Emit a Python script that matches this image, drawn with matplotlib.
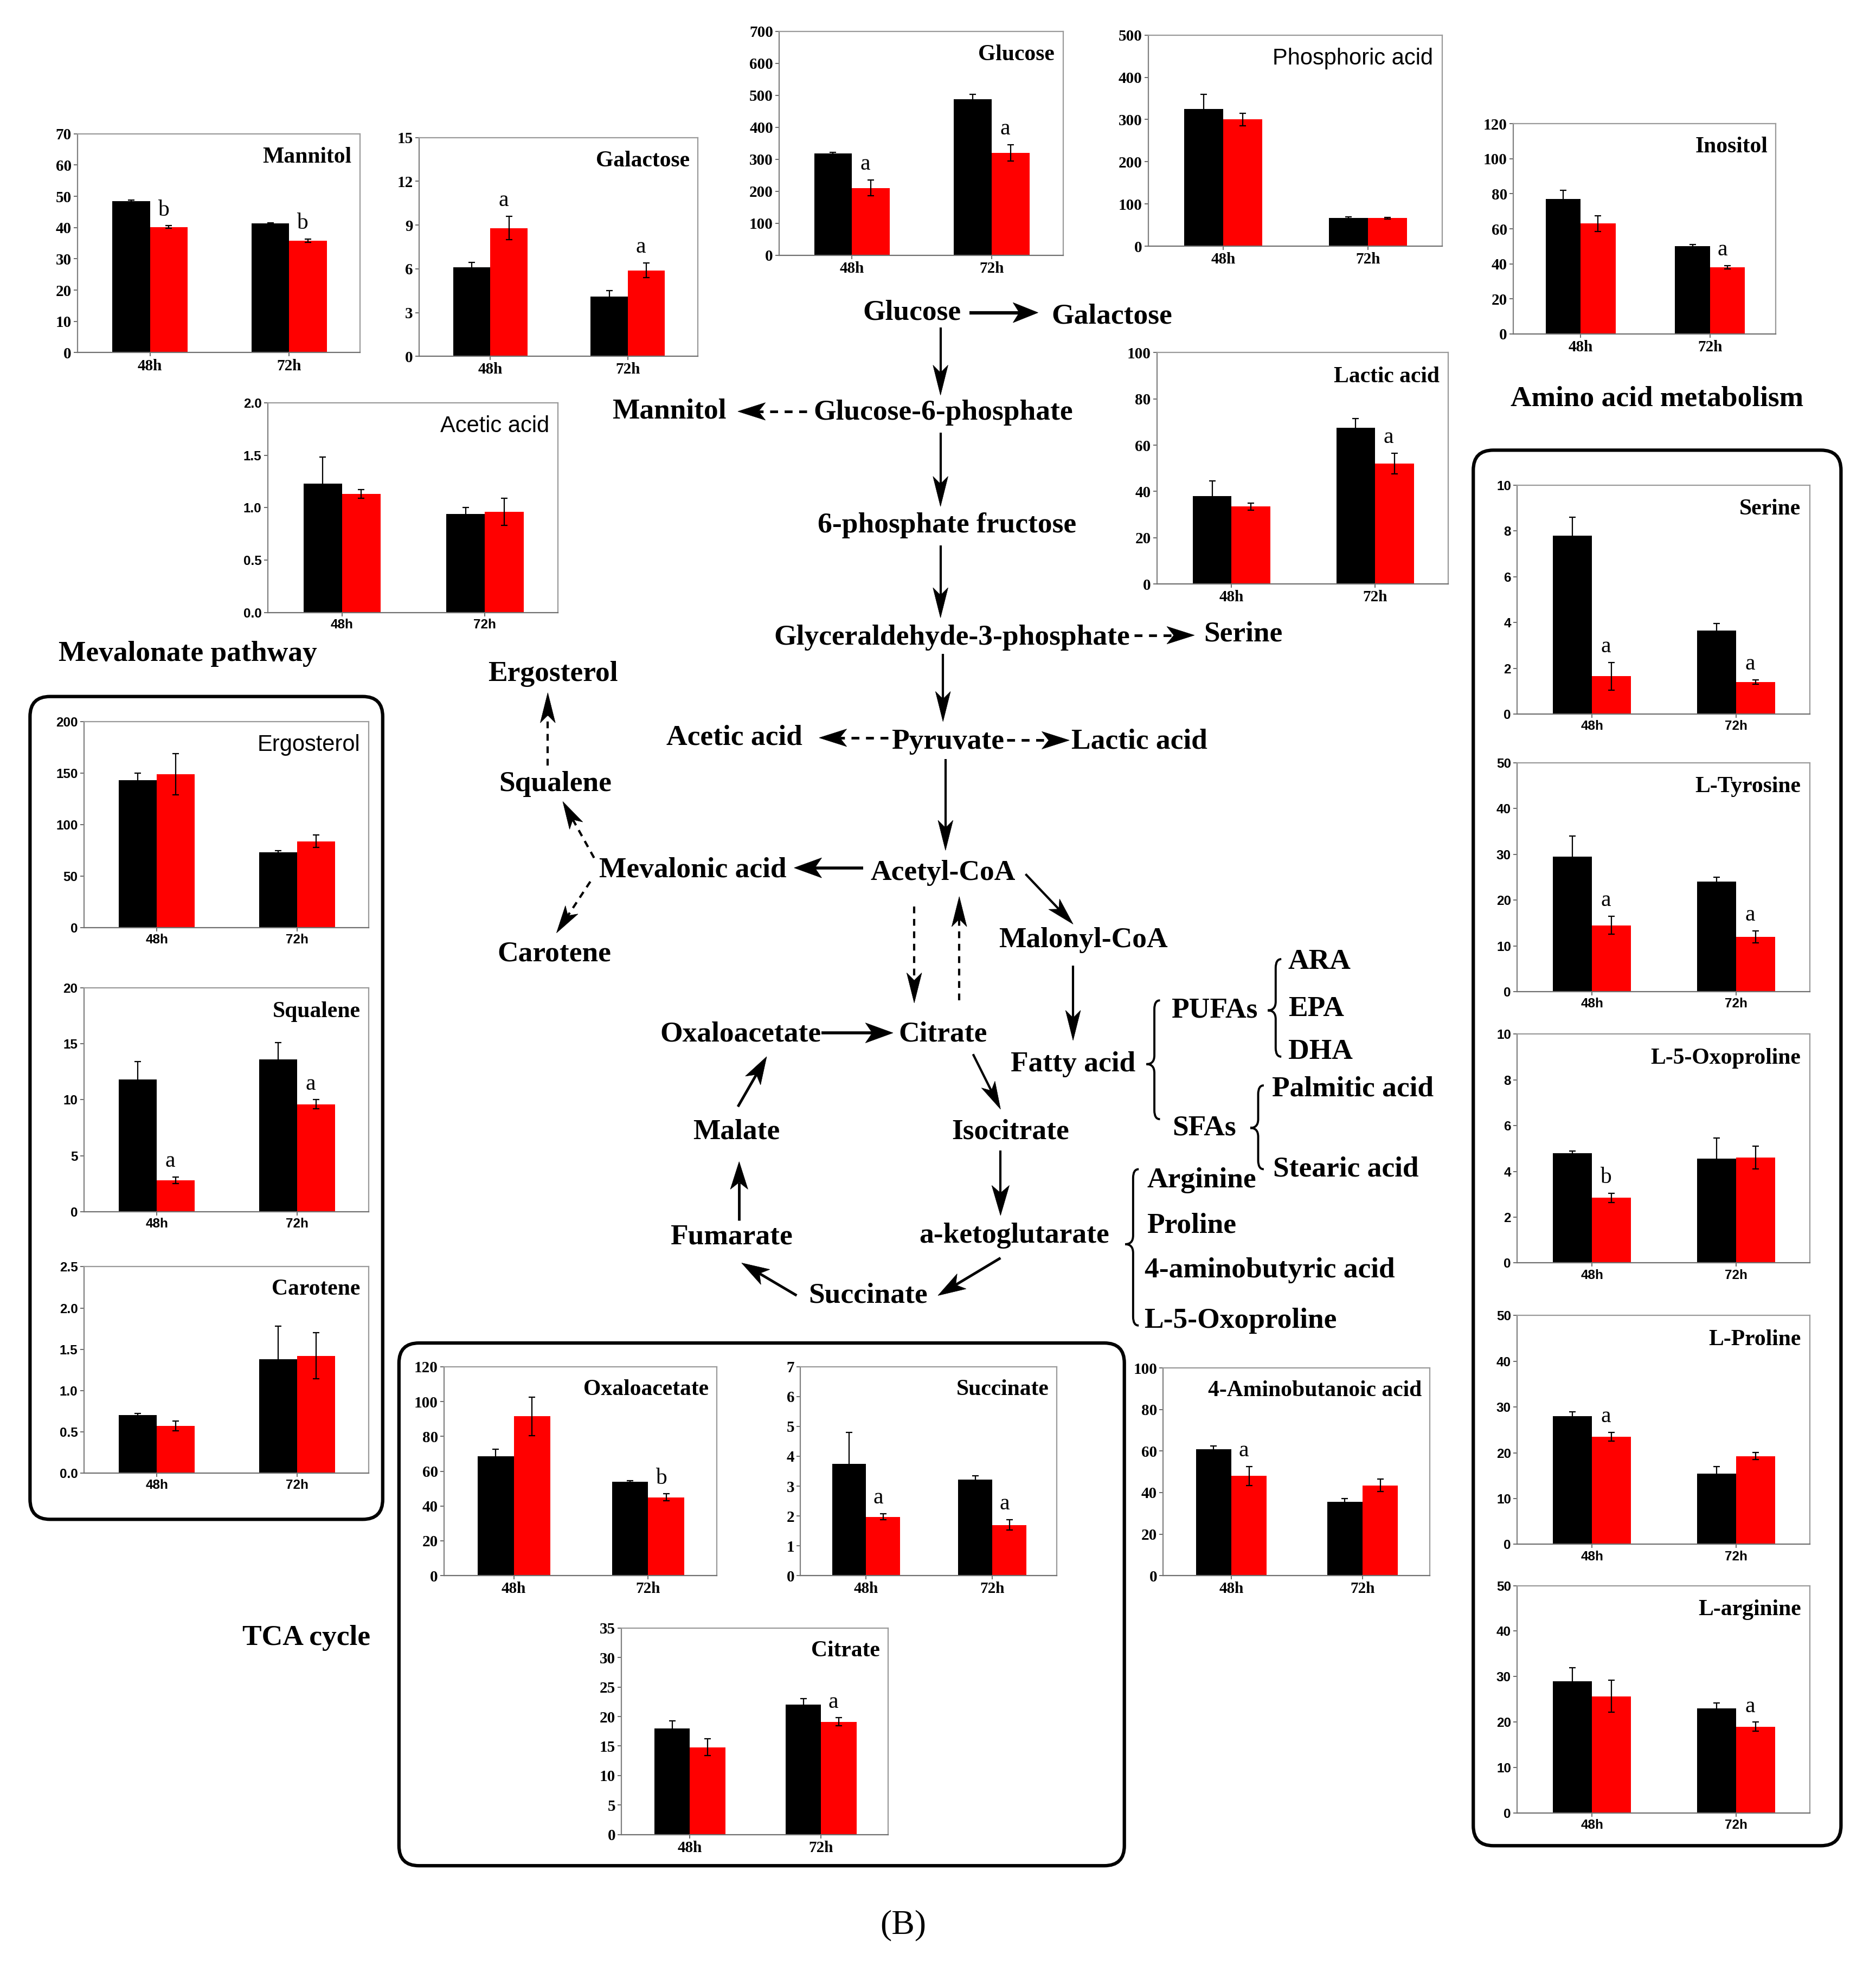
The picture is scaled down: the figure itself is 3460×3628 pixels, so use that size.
import matplotlib
matplotlib.use('Agg')
import matplotlib.pyplot as plt
from matplotlib.patches import FancyBboxPatch, Polygon, PathPatch
from matplotlib.path import Path
import numpy as np

# ---------------- data ----------------
timepoints = ['48h', '72h']
metabolites = ['Mannitol', 'Galactose', 'Glucose', 'Phosphoric acid', 'Inositol',
               'Acetic acid', 'Lactic acid', 'Ergosterol', 'Squalene', 'Carotene',
               'Serine', 'L-Tyrosine', 'L-5-Oxoproline', 'L-Proline', 'L-arginine',
               'Oxaloacetate', 'Succinate', 'Citrate', '4-Aminobutanoic acid']
control_means = [[48.5, 41.3], [6.1, 4.1], [318, 487], [325, 67], [77, 50],
                 [1.23, 0.94], [38, 67.5], [143, 73], [11.8, 13.6], [0.70, 1.38],
                 [7.8, 3.65], [29.5, 24], [4.8, 4.55], [28, 15.5], [29, 23],
                 [68.5, 54], [3.75, 3.22], [18, 22], [61, 35.5]]
control_err = [[0.3, 0.3], [0.35, 0.4], [4, 15], [35, 3], [5, 1],
               [0.25, 0.06], [6.5, 4], [7, 2], [1.6, 1.5], [0.02, 0.4],
               [0.8, 0.3], [4.5, 1], [0.1, 0.9], [1, 1.5], [3, 1.2],
               [4, 0.5], [1.05, 0.12], [1.3, 1], [1.5, 1.5]]
treated_means = [[40.2, 35.8], [8.8, 5.9], [210, 320], [300, 67], [63, 38],
                 [1.13, 0.96], [33.5, 52], [149, 84], [2.8, 9.6], [0.57, 1.42],
                 [1.65, 1.4], [14.5, 12], [2.85, 4.6], [23.5, 19.3], [25.7, 19],
                 [91.5, 45], [1.97, 1.7], [14.8, 19.1], [48, 43.5]]
treated_err = [[0.4, 0.5], [0.8, 0.5], [25, 25], [15, 2], [4.5, 1],
               [0.04, 0.13], [1.5, 4.5], [20, 6], [0.3, 0.4], [0.06, 0.28],
               [0.6, 0.1], [2, 1.3], [0.2, 0.5], [1, 0.8], [3.5, 1],
               [11, 2], [0.1, 0.17], [1.4, 0.7], [4.5, 3]]
sig_letters = [['b', 'b'], ['a', 'a'], ['a', 'a'], ['', ''], ['', 'a'],
               ['', ''], ['', 'a'], ['', ''], ['a', 'a'], ['', ''],
               ['a', 'a'], ['a', 'a'], ['b', ''], ['a', ''], ['', 'a'],
               ['', 'b'], ['a', 'a'], ['', 'a'], ['a', '']]
y_max = [70, 15, 700, 500, 120, 2.0, 100, 200, 20, 2.5,
         10, 50, 10, 50, 50, 120, 7, 35, 100]
y_step = [10, 3, 100, 100, 20, 0.5, 20, 50, 5, 0.5,
          2, 10, 2, 10, 10, 20, 1, 5, 20]

# ---------------- layout (reference pixel frame 1500 x 1573) ----------------
W, H = 1500.0, 1573.0
SERIF = 'Liberation Serif'
SANS = 'Liberation Sans'
# name: (x0, y0, x1, y1, title family, title weight, tick family, decimals)
layout = {
    'Mannitol': (62, 107, 288, 282, SERIF, 'bold', SERIF, 0),
    'Galactose': (335, 110, 558, 285, SERIF, 'bold', SERIF, 0),
    'Glucose': (623, 25, 850, 204, SERIF, 'bold', SERIF, 0),
    'Phosphoric acid': (918, 28, 1153, 197, SANS, 'normal', SERIF, 0),
    'Inositol': (1210, 99, 1420, 267, SERIF, 'bold', SERIF, 0),
    'Acetic acid': (214, 322, 446, 490, SANS, 'normal', SANS, 1),
    'Lactic acid': (925, 282, 1158, 467, SERIF, 'bold', SERIF, 0),
    'Ergosterol': (67, 577, 295, 742, SANS, 'normal', SANS, 0),
    'Squalene': (67, 790, 295, 969, SERIF, 'bold', SANS, 0),
    'Carotene': (67, 1013, 295, 1178, SERIF, 'bold', SANS, 1),
    'Serine': (1213, 388, 1447, 571, SERIF, 'bold', SANS, 0),
    'L-Tyrosine': (1213, 610, 1447, 793, SERIF, 'bold', SANS, 0),
    'L-5-Oxoproline': (1213, 827, 1447, 1010, SERIF, 'bold', SANS, 0),
    'L-Proline': (1213, 1052, 1447, 1235, SERIF, 'bold', SANS, 0),
    'L-arginine': (1213, 1268, 1447, 1450, SERIF, 'bold', SANS, 0),
    'Oxaloacetate': (355, 1093, 573, 1260, SERIF, 'bold', SERIF, 0),
    'Succinate': (640, 1093, 845, 1260, SERIF, 'bold', SERIF, 0),
    'Citrate': (497, 1302, 710, 1467, SERIF, 'bold', SERIF, 0),
    '4-Aminobutanoic acid': (930, 1094, 1143, 1260, SERIF, 'bold', SERIF, 0),
}

fig = plt.figure(figsize=(34.6, 36.28), dpi=100)
fig.patch.set_facecolor('white')
bg = fig.add_axes([0, 0, 1, 1])
bg.set_xlim(0, W)
bg.set_ylim(H, 0)
bg.axis('off')

PFS = 38.5  # pathway font size


def label(x, y, s, ha='center', size=PFS, weight='bold'):
    bg.text(x, y, s, ha=ha, va='center', fontsize=size, family=SERIF,
            weight=weight, color='black')


def head(x1, y1, ux, uy, L, Wd):
    px, py = -uy, ux
    bx, by = x1 - ux * L, y1 - uy * L
    nx, ny = x1 - ux * L * 0.75, y1 - uy * L * 0.75
    pts = [(x1, y1), (bx + px * Wd, by + py * Wd), (nx, ny), (bx - px * Wd, by - py * Wd)]
    bg.add_patch(Polygon(pts, closed=True, facecolor='black', edgecolor='black',
                         lw=0.5, zorder=3))


def arrow(x0, y0, x1, y1, dashed=False, L=24, Wd=6, lw=3.0):
    d = np.hypot(x1 - x0, y1 - y0)
    ux, uy = (x1 - x0) / d, (y1 - y0) / d
    ex, ey = x1 - ux * L * 0.75, y1 - uy * L * 0.75
    bg.plot([x0, ex], [y0, ey], color='black', lw=lw,
            ls=(0, (3, 2.5)) if dashed else '-', solid_capstyle='butt',
            dash_capstyle='butt')
    head(x1, y1, ux, uy, L, Wd)


def brace(x, y0, y1, ym, w=9, lw=2.8):
    r = 7
    verts = [(x + w * 0.5, y0), (x, y0), (x, y0 + r),
             (x, ym - r), (x, ym), (x - w * 0.7, ym),
             (x, ym), (x, ym + r),
             (x, y1 - r), (x, y1), (x + w * 0.5, y1)]
    codes = [Path.MOVETO, Path.CURVE3, Path.CURVE3,
             Path.LINETO, Path.CURVE3, Path.CURVE3,
             Path.CURVE3, Path.CURVE3,
             Path.LINETO, Path.CURVE3, Path.CURVE3]
    bg.add_patch(PathPatch(Path(verts, codes), facecolor='none', edgecolor='black', lw=lw))


def rbox(x0, y0, x1, y1):
    bg.add_patch(FancyBboxPatch((x0, y0), x1 - x0, y1 - y0,
                                boxstyle='round,pad=0,rounding_size=16',
                                facecolor='none', edgecolor='black', lw=4.5))


# ---------------- pathway diagram ----------------
label(729, 250, 'Glucose')
arrow(775, 250, 830, 250, L=20, Wd=8, lw=4.5)
label(889, 253, 'Galactose')
arrow(752, 262, 752, 316)
label(754, 330, 'Glucose-6-phosphate')
label(535, 329, 'Mannitol')
arrow(645, 329, 590, 329, dashed=True, L=22, Wd=7, lw=3.5)
arrow(752, 346, 752, 405)
label(757, 420, '6-phosphate fructose')
arrow(752, 436, 752, 494)
label(761, 510, 'Glyceraldehyde-3-phosphate')
arrow(907, 508, 955, 508, dashed=True, L=22, Wd=7, lw=3.5)
label(994, 507, 'Serine')
arrow(754, 523, 754, 577)
label(758, 593, 'Pyruvate')
label(587, 590, 'Acetic acid')
arrow(710, 590, 655, 590, dashed=True, L=22, Wd=7, lw=3.5)
label(911, 593, 'Lactic acid')
arrow(805, 592, 855, 592, dashed=True, L=22, Wd=7, lw=3.5)
arrow(756, 607, 756, 680)
label(754, 698, 'Acetyl-CoA')
label(554, 696, 'Mevalonic acid')
arrow(690, 694, 635, 694, L=22, Wd=8, lw=4.0)
arrow(820, 699, 858, 739, L=22, Wd=6, lw=3.0)
label(866, 752, 'Malonyl-CoA')
arrow(731, 725, 731, 802, dashed=True, L=24, Wd=6)
arrow(767, 800, 767, 717, dashed=True, L=24, Wd=6)
label(754, 827, 'Citrate')
label(592, 827, 'Oxaloacetate')
arrow(657, 826, 714, 826, L=22, Wd=8, lw=4.0)
arrow(778, 843, 800, 887, L=22, Wd=6, lw=3.0)
label(808, 905, 'Isocitrate')
arrow(800, 920, 800, 972, L=24, Wd=7)
label(811, 988, 'a-ketoglutarate')
arrow(800, 1006, 750, 1036, L=22, Wd=7, lw=3.5)
label(694, 1036, 'Succinate')
arrow(637, 1036, 593, 1010, L=22, Wd=7, lw=3.5)
label(585, 989, 'Fumarate')
arrow(591, 976, 591, 929, L=22, Wd=7, lw=3.5)
label(589, 905, 'Malate')
arrow(590, 885, 613, 845, L=22, Wd=7, lw=3.5)
arrow(858, 772, 858, 832, L=24, Wd=6)
label(858, 851, 'Fatty acid')
brace(923, 800, 895, 851)
label(971, 808, 'PUFAs')
label(963, 902, 'SFAs')
brace(1020, 767, 845, 808)
label(1030, 769, 'ARA', ha='left')
label(1030, 807, 'EPA', ha='left')
label(1030, 841, 'DHA', ha='left')
brace(1006, 868, 935, 902)
label(1017, 871, 'Palmitic acid', ha='left')
label(1018, 935, 'Stearic acid', ha='left')
brace(906, 935, 1060, 995)
label(917, 944, 'Arginine', ha='left')
label(917, 980, 'Proline', ha='left')
label(915, 1016, '4-aminobutyric acid', ha='left')
label(915, 1056, 'L-5-Oxoproline', ha='left')
arrow(475, 686, 450, 641, dashed=True, L=22, Wd=6, lw=3.0)
label(444, 627, 'Squalene')
arrow(438, 612, 438, 554, dashed=True, L=24, Wd=6, lw=3.0)
label(442, 539, 'Ergosterol')
arrow(472, 705, 445, 746, dashed=True, L=22, Wd=6, lw=3.0)
label(443, 763, 'Carotene')

label(150, 523, 'Mevalonate pathway')
label(1325, 319, 'Amino acid metabolism')
label(245, 1310, 'TCA cycle')
label(722, 1540, '(B)', weight='normal', size=46)

rbox(24, 557, 306, 1215)
rbox(1178, 360, 1472, 1476)
rbox(319, 1074, 899, 1492)

# ---------------- bar charts ----------------
BW = 0.27
pos = np.arange(len(timepoints))
ekw = dict(ecolor='black', elinewidth=1.6, capsize=4, capthick=1.6)

for i, name in enumerate(metabolites):
    x0, y0, x1, y1, tfam, tw, kfam, dec = layout[name]
    ax = fig.add_axes([x0 / W, 1 - y1 / H, (x1 - x0) / W, (y1 - y0) / H])
    ax.set_facecolor('white')
    ax.bar(pos - BW / 2, control_means[i], BW, color='black', yerr=control_err[i],
           error_kw=ekw, zorder=2)
    ax.bar(pos + BW / 2, treated_means[i], BW, color='#ff0000', yerr=treated_err[i],
           error_kw=ekw, zorder=2)
    ax.set_xlim(-0.52, 1.51)
    ax.set_ylim(0, y_max[i])
    ticks = np.arange(0, y_max[i] + y_step[i] / 2, y_step[i])
    ax.set_yticks(ticks)
    if dec:
        ax.set_yticklabels(['%.1f' % t for t in ticks])
    else:
        ax.set_yticklabels(['%d' % round(t) for t in ticks])
    ax.set_xticks(pos)
    ax.set_xticklabels(timepoints)
    for sp in ax.spines.values():
        sp.set_color('#9a9a9a')
        sp.set_linewidth(1.6)
    ax.spines['bottom'].set_color('#707070')
    ax.spines['left'].set_color('#808080')
    tsize = 21 if kfam == SERIF else 17.5
    ax.tick_params(axis='both', direction='out', length=5, width=1.3, color='#606060',
                   pad=3)
    for lab in ax.get_yticklabels() + ax.get_xticklabels():
        lab.set_family(kfam)
        lab.set_weight('bold')
        lab.set_fontsize(tsize)
    ax.text(0.97, 0.94, name, transform=ax.transAxes, ha='right', va='top',
            fontsize=30, family=tfam, weight=tw)
    for j in range(2):
        s = sig_letters[i][j]
        if s:
            top = treated_means[i][j] + treated_err[i][j]
            ax.annotate(s, xy=(pos[j] + BW / 2 - 0.04, top), xytext=(0, 7),
                        textcoords='offset points', ha='center', va='bottom',
                        fontsize=30, family=SERIF)

fig.savefig('out.png', dpi=100, facecolor='white')
